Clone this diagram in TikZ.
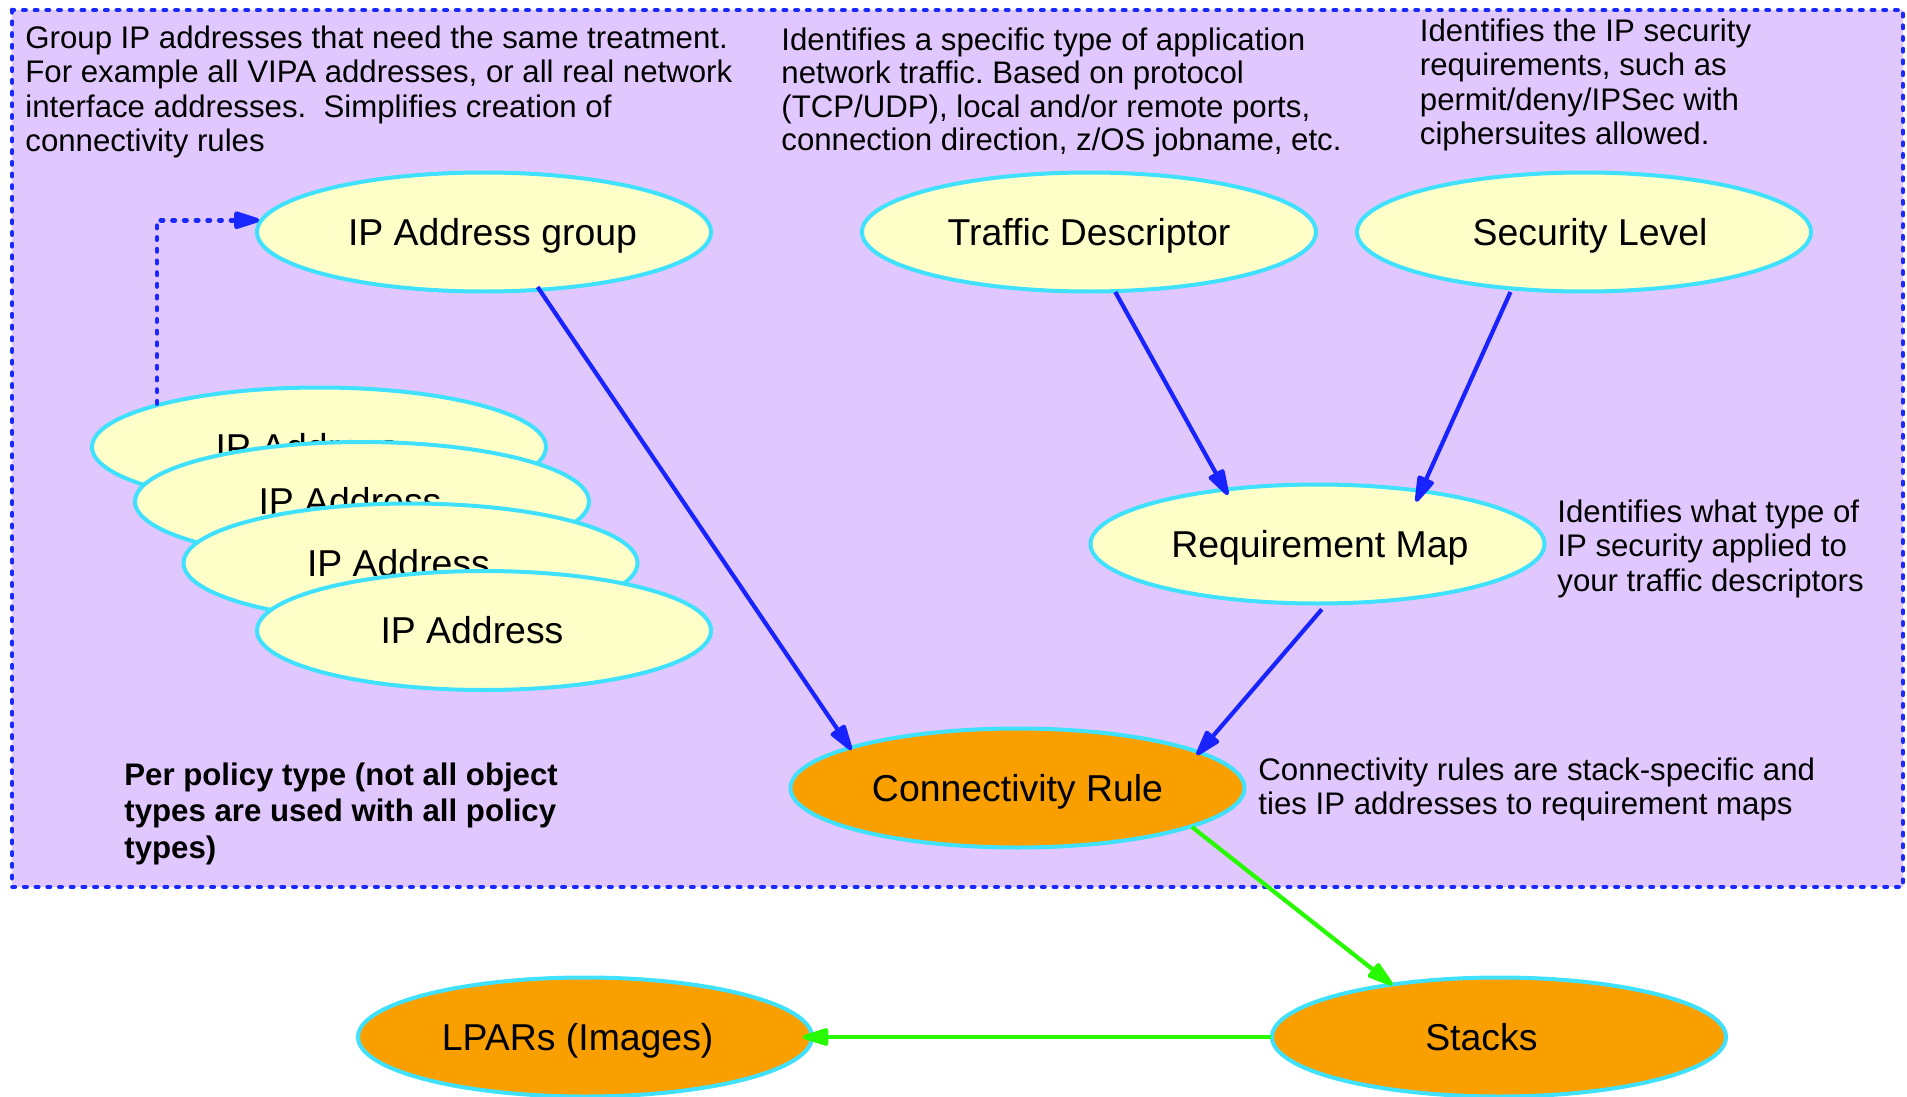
\documentclass[tikz,border=0pt]{standalone}
\usepackage{fontspec}
\setmainfont{Liberation Sans}
\usetikzlibrary{shapes.geometric,arrows.meta,calc}
\definecolor{boxfill}{RGB}{224,200,254}
\definecolor{boxline}{RGB}{25,40,255}
\definecolor{nodeyel}{RGB}{254,254,200}
\definecolor{nodeorg}{RGB}{249,160,0}
\definecolor{nodeline}{RGB}{64,224,255}
\definecolor{edgeblue}{RGB}{25,35,255}
\definecolor{edgegreen}{RGB}{40,250,0}
\begin{document}
\frenchspacing
\begin{tikzpicture}[x=0.5pt,y=-0.5pt,
  ell/.style={ellipse, draw=nodeline, line width=2pt, minimum width=227pt, minimum height=59.5pt, inner sep=0pt, text height=13.4pt, text depth=0pt, font=\fontsize{18.7pt}{22pt}\selectfont},
  yel/.style={ell, fill=nodeyel},
  org/.style={ell, fill=nodeorg},
  note/.style={anchor=north west, inner sep=0pt, align=left, font=\fontsize{15.6pt}{17.2pt}\selectfont},
  boldnote/.style={note, font=\fontsize{15.6pt}{18.2pt}\selectfont\bfseries},
  tipstyle/.style={-{Triangle[length=15.5pt,width=9pt,round]}},
  bluearrow/.style={draw=edgeblue, line width=2.1pt, tipstyle},
  greenarrow/.style={draw=edgegreen, line width=2.1pt, tipstyle},
  dotline/.style={draw=boxline, line width=2.3pt, line cap=round, dash pattern=on 1.2pt off 4.65pt}
]
\useasboundingbox (0,0) rectangle (1907,1097);
\draw[dotline, fill=boxfill] (12,10) rectangle (1903,887);

% stacked IP address ellipses
\node[yel] (ipa1) at (319,447) {IP Address\kern12pt};
\node[yel] (ipa2) at (362,501.5) {IP Address\kern12pt};
\node[yel] (ipa3) at (410.5,563) {IP Address\kern12pt};
\node[yel] (ipa4) at (484,630.5) {IP Address\kern12pt};

\node[yel] (ipg) at (484,232) {\kern8.5pt IP Address group};
\node[yel] (td) at (1089,232) {Traffic Descriptor};
\node[yel] (sl) at (1584,232) {\kern6pt Security Level};
\node[yel] (rm) at (1317.5,544) {\kern2.4pt Requirement Map};
\node[org] (cr) at (1017.5,788) {Connectivity Rule};
\node[org] (lp) at (585,1037) {LPARs (Images)\kern7.3pt};
\node[org] (st) at (1499,1037) {Stacks\kern17.6pt};

% annotations
\node[note] (n1) at (25,25.5) {Group IP addresses that need the same treatment.\\For example all VIPA addresses, or all real network\\interface addresses.\ \ Simplifies creation of\\connectivity rules};
\node[note, font=\fontsize{15.6pt}{16.7pt}\selectfont] (n2) at (781,27.5) {Identifies a specific type of application\\network traffic. Based on protocol\\(TCP/UDP), local and/or remote ports,\\connection direction, z/OS jobname, etc.};
\node[note] (n3) at (1419.5,18.5) {Identifies the IP security\\requirements, such as\\permit/deny/IPSec with\\ciphersuites allowed.};
\node[note] (n4) at (1557,499.5) {Identifies what type of\\IP security applied to\\your traffic descriptors};
\node[note] (n5) at (1258,757.5) {Connectivity rules are stack-specific and\\ties IP addresses to requirement maps};
\node[boldnote] (n6) at (124,762.5) {Per policy type (not all object\\types are used with all policy\\types)};

% connectors
\draw[dotline, -{Triangle[length=15.5pt,width=9pt,round]}] (ipa1.165) |- (ipg.177);
\draw[bluearrow] ($(ipg.center)+(53.6,55)$) -- ($(cr.center)+(-166,-38)$);
\draw[bluearrow] ($(td.center)+(26.3,60)$) -- ($(rm.center)+(-89.5,-49)$);
\draw[bluearrow] ($(sl.center)+(-73.5,60)$) -- ($(rm.center)+(98.5,-42.3)$);
\draw[bluearrow] ($(rm.center)+(4.3,65.3)$) -- ($(cr.center)+(179.2,-33)$);
\draw[greenarrow] ($(cr.center)+(174.5,39)$) -- ($(st.center)+(-106.5,-52)$);
\draw[greenarrow] ($(st.center)+(-228,0)$) -- ($(lp.center)+(217.7,0)$);
\end{tikzpicture}
\end{document}
